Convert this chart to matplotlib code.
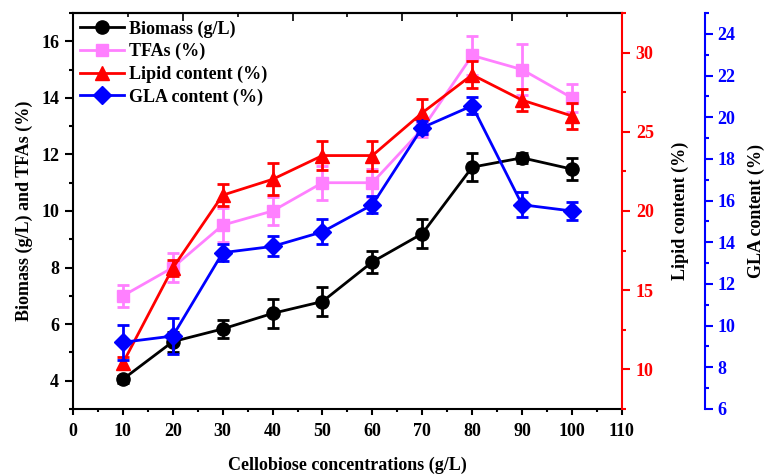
import matplotlib.pyplot as plt
from matplotlib.lines import Line2D
from matplotlib.ticker import MultipleLocator, FixedLocator

plt.rcParams['font.family'] = 'Liberation Serif'
plt.rcParams['font.weight'] = 'bold'

# Cellobiose concentrations (g/L)
conc = [10, 20, 30, 40, 50, 60, 70, 80, 90, 100]

biomass = [4.05, 5.38, 5.83, 6.38, 6.8, 8.2, 9.2, 11.55, 11.88, 11.48]
biomass_err = [0.12, 0.35, 0.32, 0.5, 0.5, 0.4, 0.5, 0.5, 0.18, 0.4]

tfas = [7.0, 8.0, 9.5, 10.0, 11.0, 11.0, 12.9, 15.5, 15.0, 14.0]
tfas_err = [0.4, 0.5, 0.6, 0.5, 0.6, 0.5, 0.3, 0.7, 0.9, 0.5]

lipid = [10.4, 16.4, 21.0, 22.0, 23.5, 23.5, 26.2, 28.6, 27.0, 26.0]
lipid_err = [0.4, 0.5, 0.7, 1.0, 0.9, 0.95, 0.9, 0.85, 0.7, 0.85]

gla = [9.2, 9.5, 13.5, 13.8, 14.5, 15.8, 19.5, 20.55, 15.8, 15.5]
gla_err = [0.85, 0.85, 0.42, 0.48, 0.6, 0.4, 0.3, 0.4, 0.6, 0.42]

violet = '#FF80FF'

fig = plt.figure(figsize=(7.64, 4.75), dpi=100)
ax = fig.add_axes([0.0955, 0.139, 0.7185, 0.8336])
ax2 = ax.twinx()
ax3 = ax.twinx()
ax3.spines['right'].set_position(('axes', 1.151))

kw = dict(lw=2, capsize=4, capthick=2, elinewidth=2)
ax.errorbar(conc, biomass, yerr=biomass_err, color='black', marker='o', ms=9.5, **kw)
ax.errorbar(conc, tfas, yerr=tfas_err, color=violet, marker='s', ms=8.5, **kw)
ax2.errorbar(conc, lipid, yerr=lipid_err, color='red', marker='^', ms=10, **kw)
ax3.errorbar(conc, gla, yerr=gla_err, color='blue', marker='D', ms=9, **kw)

ax.set_xlim(0, 110)
ax.set_ylim(3, 17)
ax2.set_ylim(7.5, 32.5)
ax3.set_ylim(6, 25)

ax.xaxis.set_major_locator(MultipleLocator(10))
ax.xaxis.set_minor_locator(MultipleLocator(5))
ax.yaxis.set_major_locator(FixedLocator([4, 6, 8, 10, 12, 14, 16]))
ax.yaxis.set_minor_locator(MultipleLocator(1))
ax2.yaxis.set_major_locator(FixedLocator([10, 15, 20, 25, 30]))
ax2.yaxis.set_minor_locator(MultipleLocator(2.5))
ax3.yaxis.set_major_locator(MultipleLocator(2))
ax3.yaxis.set_minor_locator(MultipleLocator(1))

# top axis: ticks only, pointing inward
axt = ax.secondary_xaxis('top')
axt.xaxis.set_major_locator(FixedLocator([0, 22, 44, 66, 88, 110]))
axt.xaxis.set_minor_locator(FixedLocator([11, 33, 55, 77, 99]))
axt.tick_params(which='major', direction='in', length=6, width=1.2, labeltop=False)
axt.tick_params(which='minor', direction='in', length=3, width=1.2)
axt.spines['top'].set_linewidth(1.5)

fs = 13
ax.tick_params(axis='x', which='major', direction='out', length=4, width=1.5, labelsize=fs, pad=6)
ax.tick_params(axis='x', which='minor', direction='out', length=2.5, width=1.5)
ax.tick_params(axis='y', which='major', direction='out', length=6, width=1.5, labelsize=fs, pad=4)
ax.tick_params(axis='y', which='minor', direction='out', length=3, width=1.5)
ax2.tick_params(axis='y', which='major', direction='out', length=6, width=1.5, colors='red', labelsize=fs, pad=4)
ax2.tick_params(axis='y', which='minor', direction='out', length=3, width=1.5, colors='red')
ax3.tick_params(axis='y', which='major', direction='out', length=6, width=1.5, colors='blue', labelsize=fs, pad=3)
ax3.tick_params(axis='y', which='minor', direction='out', length=3, width=1.5, colors='blue')

for s in ['left', 'bottom', 'top']:
    ax.spines[s].set_linewidth(1.5)
ax.spines['right'].set_visible(False)
ax2.spines['right'].set_color('red')
ax2.spines['right'].set_linewidth(1.5)
for s in ['left', 'bottom', 'top']:
    ax2.spines[s].set_visible(False)
    ax3.spines[s].set_visible(False)
ax3.spines['right'].set_color('blue')
ax3.spines['right'].set_linewidth(1.5)

ax.set_xlabel('Cellobiose concentrations (g/L)', fontsize=13, fontweight='bold', labelpad=12)
ax.set_ylabel('Biomass (g/L) and TFAs (%)', fontsize=13, fontweight='bold', labelpad=6)
ax2.set_ylabel('Lipid content (%)', fontsize=13, fontweight='bold', labelpad=13)
ax3.set_ylabel('GLA content (%)', fontsize=13, fontweight='bold', labelpad=9)

handles = [
    Line2D([], [], color='black', marker='o', ms=9.5, lw=2, label='Biomass (g/L)'),
    Line2D([], [], color=violet, marker='s', ms=8.5, lw=2, label='TFAs (%)'),
    Line2D([], [], color='red', marker='^', ms=10, lw=2, label='Lipid content (%)'),
    Line2D([], [], color='blue', marker='D', ms=9, lw=2, label='GLA content (%)'),
]
ax.legend(handles=handles, loc='upper left', frameon=False,
          handlelength=2.4, handletextpad=0.3, labelspacing=0.3,
          borderaxespad=0.1, borderpad=0.3, prop={'weight': 'bold', 'size': 13})

fig.savefig('out.png', dpi=100)
